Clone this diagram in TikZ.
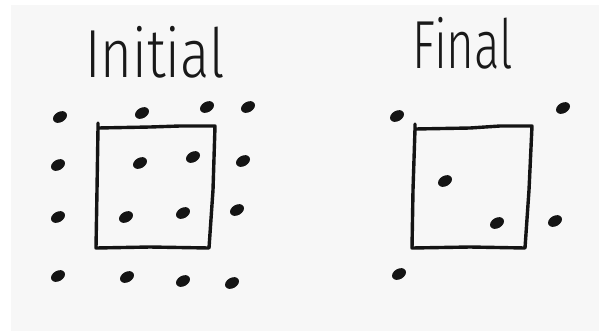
\documentclass[tikz,border=0pt]{standalone}
\usepackage{fontspec}
\setmainfont{TeX Gyre Heros}
\newfontfamily\thinfont{Fira Sans Light}
\begin{document}
\begin{tikzpicture}[x=1pt,y=-1pt,
  pen/.style={line width=3.4pt,line join=round,line cap=round,black!92},
  title/.style={font=\thinfont\fontsize{68}{68}\selectfont,inner sep=0pt,anchor=base,black!90},
  dot/.style={fill=black!92}]
\useasboundingbox (0,0) rectangle (599,333);
\fill[white] (0,0) rectangle (599,333);
\fill[black!3] (11,5) rectangle (599,331);
% titles
\node[title,xscale=0.8] (tinit) at (155,77) {Initial};
\node[title,xscale=0.7] (tfinal) at (463,68) {Final};
% left box
\draw[pen] (98,123) -- (98,128) -- (150,127) -- (180,126) -- (215,126) -- (213,190) -- (209,248) -- (150,247) -- (96,248) -- (97,190) -- (98,128);
% right box
\draw[pen] (415,124) -- (415,129) -- (470,128) -- (500,126) -- (532,126) -- (529,190) -- (525,248) -- (470,247) -- (412,248) -- (413,190) -- (415,129);
% left dots
\foreach \x/\y in {60/117,142/113,207/107,248/107,58/165,140/163,193/157,243/161,58/217,126/217,183/213,237/210,58/276,127/277,183/281,232/283}
  \fill[dot,rotate around={30:(\x,\y)}] (\x,\y) ellipse [x radius=7.5pt,y radius=5.2pt];
% right dots
\foreach \x/\y in {397/116,563/108,445/181,497/223,555/221,399/274}
  \fill[dot,rotate around={30:(\x,\y)}] (\x,\y) ellipse [x radius=7.5pt,y radius=5.2pt];
\end{tikzpicture}
\end{document}
